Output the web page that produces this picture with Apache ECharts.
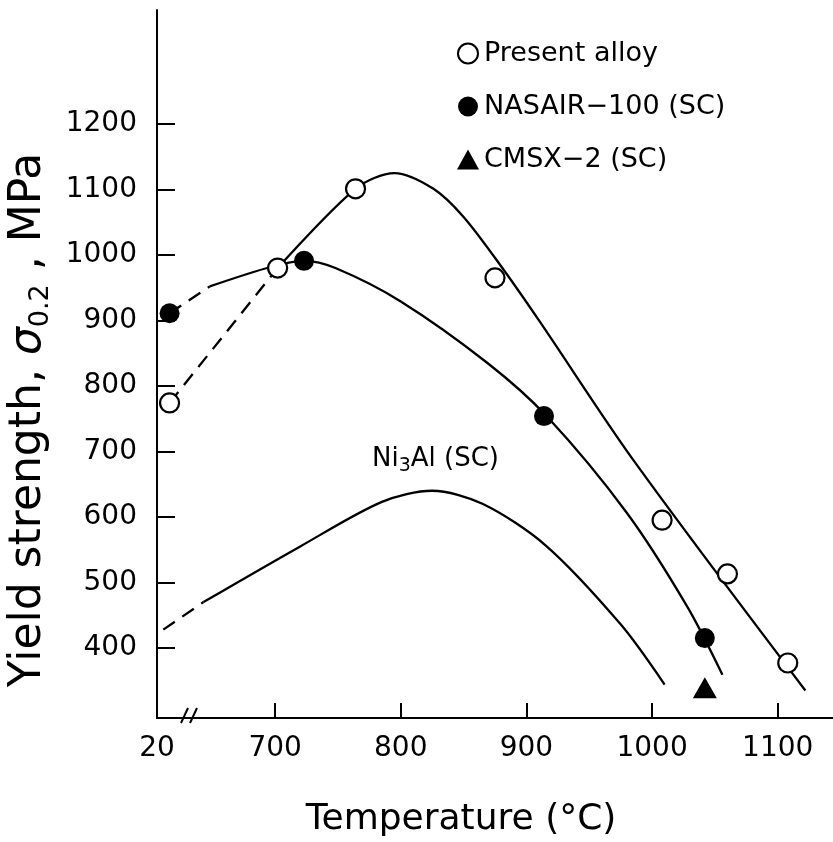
<!DOCTYPE html>
<html><head><meta charset="utf-8">
<script src="https://cdn.jsdelivr.net/npm/echarts@6/dist/echarts.min.js"></script>
<style>html,body{margin:0;padding:0;background:#fff}#c{width:833px;height:842px}</style>
</head><body><div id="c"></div>
<script>
// ---- axis ticks ----
const xTickPos = [606, 700, 800, 900, 1000, 1100];       // 606 = start of broken axis ("20")
const xTickLabels = ['20', '700', '800', '900', '1000', '1100'];
const xTickMarks = [700, 800, 900, 1000, 1100];
const yTicks = [400, 500, 600, 700, 800, 900, 1000, 1100, 1200];
const POS_20 = 616; // where the 20 °C data sit on the broken axis

// ---- measured points ----
const presentT = [20, 702, 764, 875, 1008, 1060, 1108];
const presentY = [774, 980, 1101, 965, 595, 513, 377];
const nasairT = [20, 723, 914, 1042];
const nasairY = [911, 991, 754, 415];
const cmsxT = [1042];
const cmsxY = [339];

// ---- fitted curves (axis positions; values < 700 lie in the broken part) ----
const presentDashX = [POS_20, 702];
const presentDashY = [774, 980];
const presentCurveX = [702, 764, 795, 826, 850, 879, 910, 985, 1122];
const presentCurveY = [980, 1101, 1125, 1101, 1058, 985, 900, 687, 335];

const nasairDashX = [POS_20, 648];
const nasairDashY = [911, 952];
const nasairCurveX = [648, 697, 723, 748, 800, 869, 916, 980, 1028, 1056];
const nasairCurveY = [952, 982, 991, 980, 929, 835, 754, 606, 463, 359];

const ni3alDashX = [611, 643];
const ni3alDashY = [428, 470];
const ni3alCurveX = [643, 720, 785, 825, 865, 915, 975, 1010];
const ni3alCurveY = [470, 555, 623, 640, 620, 557, 436, 344];

const FONT = '"DejaVu Sans", "Liberation Sans", sans-serif';
const zip = (xs, ys) => xs.map((x, i) => [x, ys[i]]);
const tpos = t => (t === 20 ? POS_20 : t);
const pts = (ts, ys) => ts.map((t, i) => [tpos(t), ys[i]]);

function lineSeries(name, xs, ys, dashed) {
  return {
    type: 'line', name: name, data: zip(xs, ys), showSymbol: false, silent: true,
    smooth: dashed ? false : 0.3, z: 2,
    lineStyle: { color: '#000', width: 2.3, type: dashed ? [14, 9] : 'solid' }
  };
}

const chart = echarts.init(document.getElementById('c'), null, { renderer: 'canvas' });
chart.setOption({
  animation: false,
  backgroundColor: '#fff',
  grid: { left: 157, right: 0, top: 10, bottom: 124, containLabel: false, outerBoundsMode: 'none' },
  xAxis: {
    type: 'value', min: 606, max: 1144,
    splitLine: { show: false },
    axisLine: { show: true, lineStyle: { color: '#000', width: 2 } },
    axisTick: { show: true, inside: true, length: 15, customValues: xTickMarks, lineStyle: { color: '#000', width: 2 } },
    axisLabel: {
      customValues: xTickPos, color: '#000', fontSize: 28, fontFamily: FONT, margin: 17,
      formatter: v => xTickLabels[xTickPos.indexOf(v)]
    },
    name: 'Temperature (°C)', nameLocation: 'middle', nameGap: 84,
    nameTextStyle: { fontSize: 36, color: '#000', fontFamily: FONT, padding: [0, 68, 0, 0] }
  },
  yAxis: {
    type: 'value', min: 293, max: 1374,
    splitLine: { show: false },
    axisLine: { show: true, lineStyle: { color: '#000', width: 2 } },
    axisTick: { show: true, inside: true, length: 18, customValues: yTicks, lineStyle: { color: '#000', width: 2 } },
    axisLabel: { customValues: yTicks, color: '#000', fontSize: 28, fontFamily: FONT, margin: 20, formatter: v => String(v) },
    name: 'Yield strength, {i|σ}{s|0.2} , MPa', nameLocation: 'middle', nameGap: 99,
    nameTextStyle: {
      fontSize: 44, color: '#000', fontFamily: FONT, padding: [0, 112, 0, 0], lineHeight: 52,
      rich: {
        i: { fontSize: 44, fontStyle: 'italic', fontFamily: FONT, color: '#000', lineHeight: 52 },
        s: { fontSize: 27, fontFamily: FONT, color: '#000', verticalAlign: 'bottom', lineHeight: 52 }
      }
    }
  },
  legend: {
    data: ['Present alloy', 'NASAIR−100 (SC)', 'CMSX−2 (SC)'],
    orient: 'vertical', left: 452, top: 35, itemWidth: 22, itemHeight: 20, itemGap: 26, itemTextGap: 18,
    selectedMode: false,
    textStyle: { fontSize: 27, color: '#000', fontFamily: FONT }
  },
  graphic: [
    { type: 'line', shape: { x1: 181, y1: 723, x2: 188, y2: 708 }, style: { stroke: '#000', lineWidth: 2 } },
    { type: 'line', shape: { x1: 190, y1: 723, x2: 197, y2: 708 }, style: { stroke: '#000', lineWidth: 2 } },
    {
      type: 'text', left: 372, top: 442,
      style: {
        text: 'Ni{s|3}Al (SC)', fill: '#000', font: '26px ' + FONT, lineHeight: 30,
        rich: { s: { fontSize: 19, fontFamily: FONT, fill: '#000', verticalAlign: 'bottom', lineHeight: 34 } }
      }
    }
  ],
  series: [
    lineSeries('pa-dash', presentDashX, presentDashY, true),
    lineSeries('pa-curve', presentCurveX, presentCurveY, false),
    lineSeries('na-dash', nasairDashX, nasairDashY, true),
    lineSeries('na-curve', nasairCurveX, nasairCurveY, false),
    lineSeries('ni-dash', ni3alDashX, ni3alDashY, true),
    lineSeries('ni-curve', ni3alCurveX, ni3alCurveY, false),
    {
      type: 'scatter', name: 'Present alloy', data: pts(presentT, presentY), symbol: 'circle', symbolSize: 19, z: 5,
      itemStyle: { color: '#fff', borderColor: '#000', borderWidth: 2.2, opacity: 1 }
    },
    {
      type: 'scatter', name: 'NASAIR−100 (SC)', data: pts(nasairT, nasairY), symbol: 'circle', symbolSize: 20, z: 5,
      itemStyle: { color: '#000', opacity: 1 }
    },
    {
      type: 'scatter', name: 'CMSX−2 (SC)', data: pts(cmsxT, cmsxY), symbol: 'triangle', symbolSize: [24, 21], z: 5,
      itemStyle: { color: '#000', opacity: 1 }
    }
  ]
});
</script></body></html>
